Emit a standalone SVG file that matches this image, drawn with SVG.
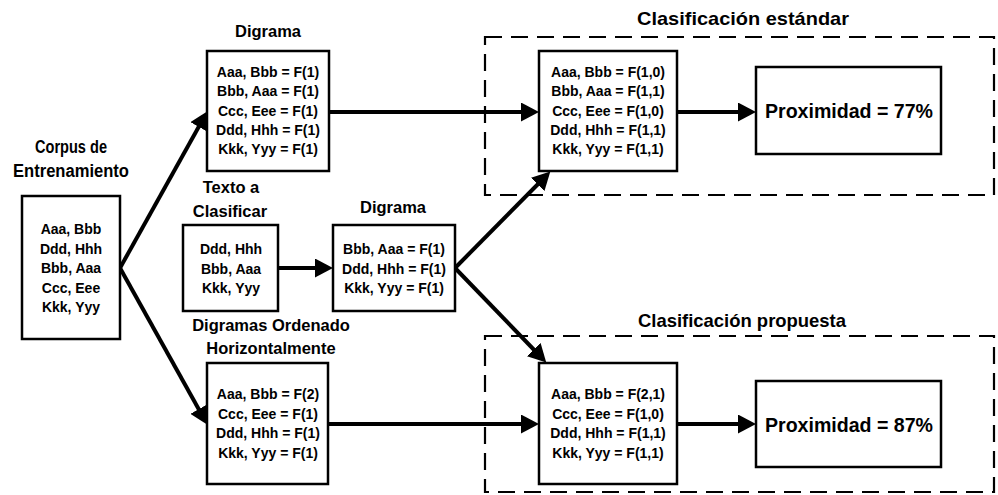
<svg xmlns="http://www.w3.org/2000/svg" width="998" height="495" viewBox="0 0 998 495">
<style>
text{font-family:"Liberation Sans",Arial,sans-serif;font-weight:bold;fill:#000;text-anchor:middle}
.t{font-size:16.5px}
.tc{font-size:18px}
.b{font-size:14px}
.h{font-size:18.5px}
.p{font-size:20px}
.box{fill:#fff;stroke:#000;stroke-width:2.5}
.dash{fill:none;stroke:#000;stroke-width:2.2;stroke-dasharray:17 9}
.c{fill:none;stroke:#000;stroke-width:4;marker-end:url(#ah)}
</style>
<defs>
<marker id="ah" markerUnits="userSpaceOnUse" markerWidth="19" markerHeight="19" refX="9" refY="9.5" orient="auto">
<path d="M0,0 L18,9.5 L0,19 Z" fill="#000"/>
</marker>
</defs>
<rect width="998" height="495" fill="#fff"/>

<g id="grupo-estandar">
<rect class="dash" x="485" y="37" width="509" height="158"/>
<text class="h" x="743" y="25" textLength="212" lengthAdjust="spacingAndGlyphs">Clasificación estándar</text>
</g>
<g id="grupo-propuesta">
<rect class="dash" x="485" y="336" width="509" height="156"/>
<text class="h" x="742" y="327" textLength="208" lengthAdjust="spacingAndGlyphs">Clasificación propuesta</text>
</g>

<g id="connectors">
<line class="c" x1="120" y1="268" x2="203.1" y2="119"/>
<line class="c" x1="120" y1="268" x2="203.1" y2="417"/>
<line class="c" x1="278" y1="268" x2="324" y2="268"/>
<line class="c" x1="329" y1="112" x2="530" y2="112"/>
<line class="c" x1="455" y1="268" x2="544" y2="178"/>
<line class="c" x1="455" y1="268" x2="540" y2="356"/>
<line class="c" x1="328" y1="424" x2="530" y2="424"/>
<line class="c" x1="677" y1="112" x2="747" y2="112"/>
<line class="c" x1="677" y1="424" x2="747" y2="424"/>
</g>

<g id="corpus">
<text class="tc" x="71" y="153" textLength="72" lengthAdjust="spacingAndGlyphs">Corpus de</text>
<text class="tc" x="71" y="177" textLength="116" lengthAdjust="spacingAndGlyphs">Entrenamiento</text>
<rect class="box" x="22" y="196" width="98" height="143"/>
<text class="b" x="71" y="234">Aaa, Bbb</text>
<text class="b" x="71" y="253.5">Ddd, Hhh</text>
<text class="b" x="71" y="273">Bbb, Aaa</text>
<text class="b" x="71" y="292.5">Ccc, Eee</text>
<text class="b" x="71" y="312">Kkk, Yyy</text>
</g>

<g id="digrama-entrenamiento">
<text class="t" x="268" y="37">Digrama</text>
<rect class="box" x="207" y="51" width="122" height="120"/>
<text class="b" x="268" y="77">Aaa, Bbb = F(1)</text>
<text class="b" x="268" y="96">Bbb, Aaa = F(1)</text>
<text class="b" x="268" y="115.5">Ccc, Eee = F(1)</text>
<text class="b" x="268" y="135">Ddd, Hhh = F(1)</text>
<text class="b" x="268" y="154">Kkk, Yyy = F(1)</text>
</g>

<g id="texto">
<text class="t" x="231" y="193">Texto a</text>
<text class="t" x="230" y="217">Clasificar</text>
<rect class="box" x="183" y="225" width="95" height="86"/>
<text class="b" x="231" y="254">Ddd, Hhh</text>
<text class="b" x="231" y="274">Bbb, Aaa</text>
<text class="b" x="231" y="293">Kkk, Yyy</text>
</g>

<g id="digrama-texto">
<text class="t" x="393" y="213">Digrama</text>
<rect class="box" x="333" y="225" width="122" height="86"/>
<text class="b" x="394" y="254">Bbb, Aaa = F(1)</text>
<text class="b" x="394" y="274">Ddd, Hhh = F(1)</text>
<text class="b" x="394" y="293">Kkk, Yyy = F(1)</text>
</g>

<g id="digramas-ordenado">
<text class="t" x="271" y="331">Digramas Ordenado</text>
<text class="t" x="271" y="354">Horizontalmente</text>
<rect class="box" x="207" y="363" width="121" height="121"/>
<text class="b" x="268" y="399">Aaa, Bbb = F(2)</text>
<text class="b" x="268" y="418.5">Ccc, Eee = F(1)</text>
<text class="b" x="268" y="438">Ddd, Hhh = F(1)</text>
<text class="b" x="268" y="457.5">Kkk, Yyy = F(1)</text>
</g>

<g id="clasif-estandar">
<rect class="box" x="539" y="51" width="138" height="120"/>
<text class="b" x="608" y="77">Aaa, Bbb = F(1,0)</text>
<text class="b" x="608" y="96">Bbb, Aaa = F(1,1)</text>
<text class="b" x="608" y="115.5">Ccc, Eee = F(1,0)</text>
<text class="b" x="608" y="135">Ddd, Hhh = F(1,1)</text>
<text class="b" x="608" y="154">Kkk, Yyy = F(1,1)</text>
</g>

<g id="proximidad-77">
<rect class="box" x="756" y="67" width="185" height="87"/>
<text class="p" x="849" y="118" textLength="168" lengthAdjust="spacingAndGlyphs">Proximidad = 77%</text>
</g>

<g id="clasif-propuesta">
<rect class="box" x="539" y="363" width="138" height="121"/>
<text class="b" x="608" y="399">Aaa, Bbb = F(2,1)</text>
<text class="b" x="608" y="418.5">Ccc, Eee = F(1,0)</text>
<text class="b" x="608" y="438">Ddd, Hhh = F(1,1)</text>
<text class="b" x="608" y="457.5">Kkk, Yyy = F(1,1)</text>
</g>

<g id="proximidad-87">
<rect class="box" x="756" y="381" width="185" height="86"/>
<text class="p" x="849" y="432" textLength="168" lengthAdjust="spacingAndGlyphs">Proximidad = 87%</text>
</g>
</svg>
